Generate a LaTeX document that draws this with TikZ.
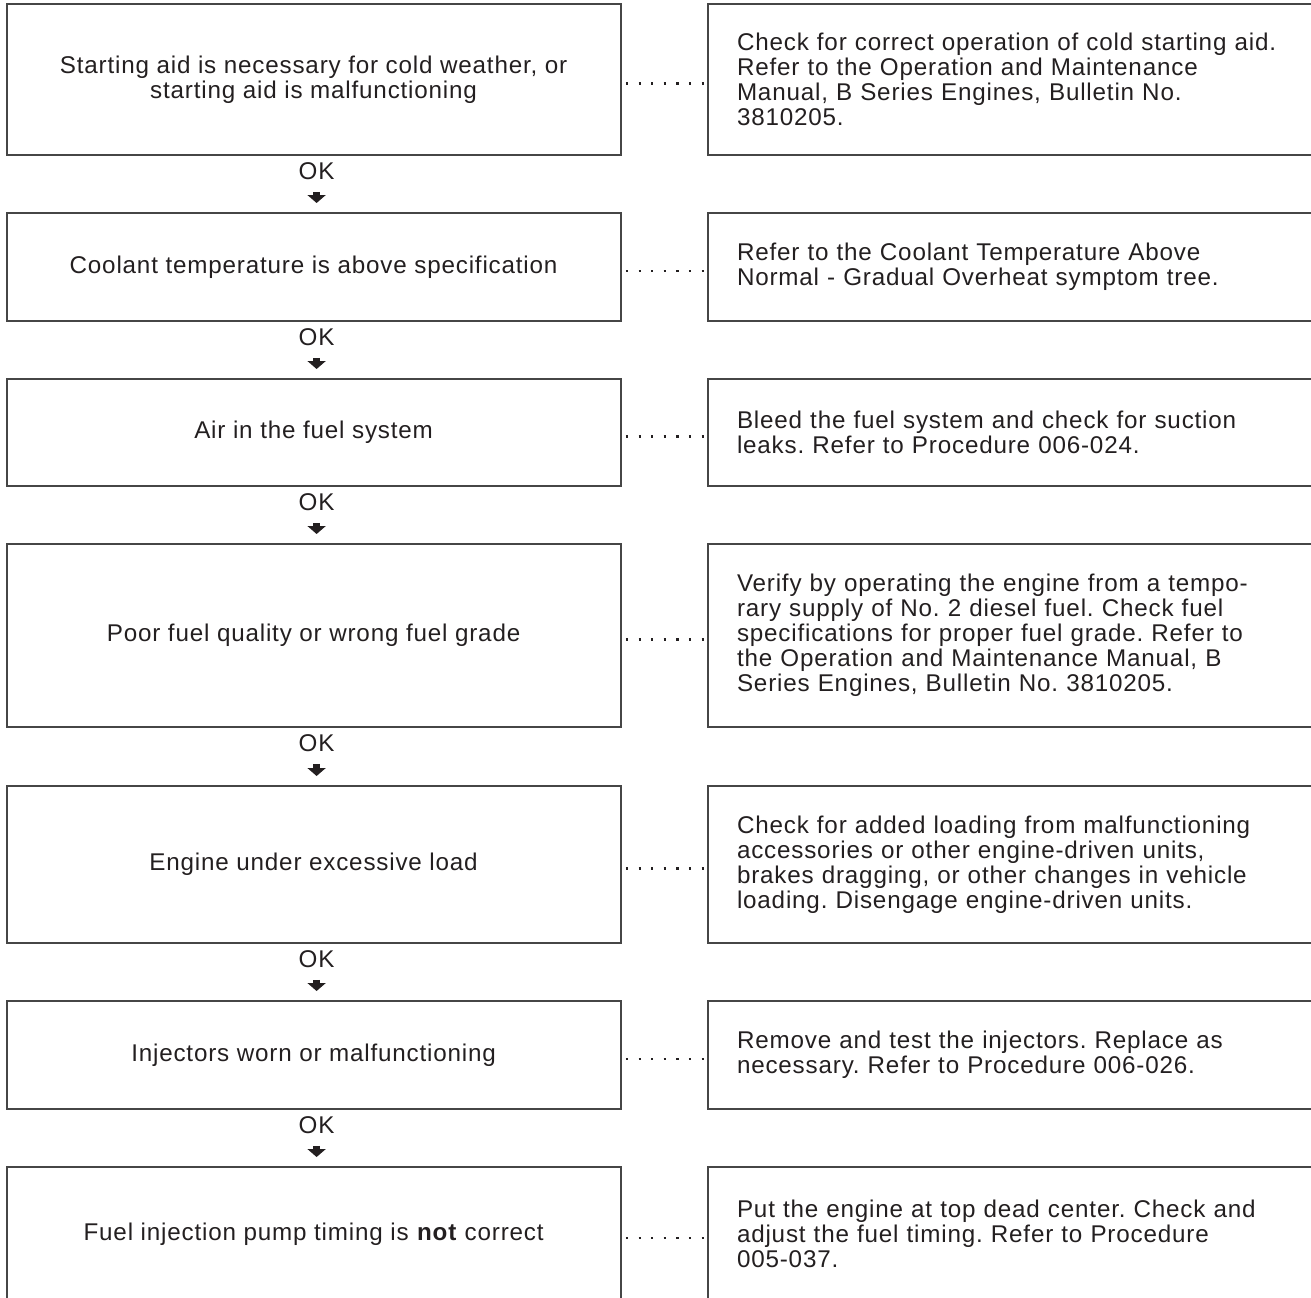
\documentclass[tikz,border=0pt]{standalone}
\usepackage{fontspec}
\setmainfont[LetterSpace=3.4]{Liberation Sans}
\usepackage{xcolor}
\usetikzlibrary{arrows.meta,positioning}
\definecolor{frame}{RGB}{70,70,70}
\definecolor{ink}{RGB}{35,31,32}
\tikzset{
  txt/.style={font=\fontsize{12.1pt}{12.5pt}\selectfont\frenchspacing, text=ink},
  cause/.style={txt, draw=frame, line width=1pt, outer sep=0pt, align=center,
    minimum width=307.1pt},
  remedy/.style={txt, draw=frame, line width=1pt, outer sep=0pt, align=left,
    anchor=west, text width=295pt, inner xsep=14.5pt},
  oklbl/.style={txt, inner sep=0pt},
  okarrow/.style={draw=ink, line width=3.5pt, -{Triangle[width=9pt,length=4pt]},
    shorten <=6pt, shorten >=5pt},
  leader/.style={draw=ink, line width=1.1pt, dash pattern=on 1.1pt off 5.2pt,
    shorten <=2.6pt, shorten >=2pt}
}
\begin{document}
\begin{tikzpicture}[x=0.5pt, y=-0.5pt]
    \useasboundingbox (0,0) rectangle (1311,1297);
    \clip (0,0) rectangle (1311,1297);
    % cause / remedy rows
    \foreach \n/\yc/\h/\cause/\remedy in {
      1/79.5/151/{Starting aid is necessary for cold weather, or\\starting aid is malfunctioning}/{Check for correct operation of cold starting aid.\\Refer to the Operation and Maintenance\\Manual, B Series Engines, Bulletin No.\\3810205.},
      2/267/108/{Coolant temperature is above specification}/{Refer to the Coolant Temperature Above\\Normal - Gradual Overheat symptom tree.},
      3/432.5/107/{Air in the fuel system}/{Bleed the fuel system and check for suction\\leaks. Refer to Procedure 006-024.},
      4/635.5/183/{Poor fuel quality or wrong fuel grade}/{Verify by operating the engine from a tempo-\\rary supply of No. 2 diesel fuel. Check fuel\\specifications for proper fuel grade. Refer to\\the Operation and Maintenance Manual, B\\Series Engines, Bulletin No. 3810205.},
      5/864.5/157/{Engine under excessive load}/{Check for added loading from malfunctioning\\accessories or other engine-driven units,\\brakes dragging, or other changes in vehicle\\loading. Disengage engine-driven units.},
      6/1055/108/{Injectors worn or malfunctioning}/{Remove and test the injectors. Replace as\\necessary. Refer to Procedure 006-026.},
      7/1234/134/{Fuel injection pump timing is \textbf{not} correct}/{Put the engine at top dead center. Check and\\adjust the fuel timing. Refer to Procedure\\005-037.}}{
      \node[cause, minimum height=\h*0.5pt] (L\n) at (313.6,\yc) {\cause};
      \node[remedy, minimum height=\h*0.5pt] (R\n) at (708,\yc) {\remedy};
      \draw[leader] ([yshift=-2pt]L\n.east) -- ([yshift=-2pt]R\n.west);
    }
    % OK arrows between causes
    \foreach \n in {1,...,6}{
      \pgfmathtruncatemacro\m{\n+1}
      \node[oklbl, below=3.5pt of L\n.south, xshift=1.5pt] (ok\n) {OK};
      \draw[okarrow] (ok\n.south) -- (ok\n.south |- L\m.north);
    }
\end{tikzpicture}
\end{document}
